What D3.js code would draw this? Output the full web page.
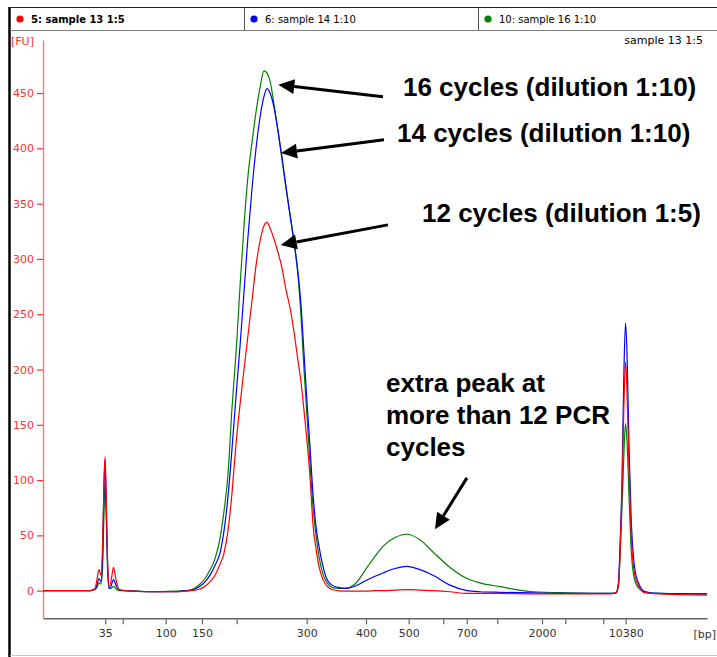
<!DOCTYPE html>
<html>
<head>
<meta charset="utf-8">
<script src="https://cdn.jsdelivr.net/npm/d3@7"></script>
<style>
  html, body { margin: 0; padding: 0; background: #fff; }
  svg { display: block; }
</style>
</head>
<body>
<svg id="chart" width="717" height="657"></svg>
<script>
// Migration time (s) of each sample point in the electropherogram
const times = [40.00, 43.46, 46.02, 46.66, 46.91, 47.17, 47.42, 47.62, 47.81, 47.94, 48.06, 48.26, 48.45, 48.70, 49.02, 49.34, 49.73, 50.50,
  53.70, 56.90, 58.18, 58.82, 59.46, 60.10, 60.74, 61.38, 62.02, 62.66, 63.17, 63.68, 64.19, 64.71, 65.22, 65.73, 66.24, 66.75,
  67.27, 67.78, 68.29, 68.67, 69.06, 69.57, 70.08, 70.59, 71.11, 71.62, 72.13, 72.64, 73.03, 73.41, 73.80, 74.18, 74.56, 74.95,
  75.33, 75.84, 76.36, 76.99, 77.76, 78.66, 79.94, 81.48, 82.50, 83.52, 85.06, 86.60, 88.26, 89.92, 92.10, 94.28, 95.94, 98.50,
  102.72, 107.46, 112.58, 113.35, 113.67, 113.86, 114.12, 114.37, 114.57, 114.76, 115.02, 115.27, 115.66, 116.17, 117.07, 118.99, 125.00];

// Fluorescence [FU] per sample
const sample13 = [0, 0, 0, 2, 10, 19, 14, 40, 100, 121, 95, 30, 4, 8, 21, 10, 1, 0,
  -1, -1, -0.5, 0, 0.5, 1.5, 4, 8, 14, 24, 34, 54, 88, 133, 168, 200, 231, 262,
  294, 316, 330, 333, 328, 318, 306, 292, 272, 256, 234, 208, 189, 163, 135, 103, 60, 38,
  22, 10, 4, 1, 0, -0.5, -0.5, -0.5, 0, 0, 0.5, 1, 0.5, 0, -1, -2.5, -2.5, -2.5,
  -3, -3, -3, -2, 5, 30, 90, 170, 207, 180, 110, 55, 18, 5, -2, -3, -4];

const sample14 = [0, 0, 0, 1, 5, 11, 8, 30, 95, 118, 90, 25, 2, 4, 10, 5, 1, 0,
  -1, -1, 0, 0.3, 1.5, 4, 8, 14, 23, 34, 54, 85, 128, 176, 221, 270, 320, 363,
  400, 428, 447, 454, 450, 437, 416, 392, 365, 340, 315, 288, 258, 215, 170, 130, 88, 58,
  40, 22, 10, 5, 3, 2, 4, 9.7, 13, 16, 20, 22, 19, 14, 5, 0, -1, -1.5,
  -2, -2.5, -2.5, -2, 8, 40, 100, 200, 242, 215, 130, 70, 25, 8, -1, -2.5, -3];

const sample16 = [0, 0, 0, 1, 3, 7, 6, 20, 70, 97, 75, 20, 2, 2, 4, 2, 0, 0,
  -1, -0.5, 0, 0.6, 2.5, 6, 11, 19, 29, 47, 72, 105, 165, 215, 275, 330, 375, 405,
  433, 455, 470, 468, 461, 440, 416, 390, 364, 340, 316, 285, 248, 200, 157, 115, 76, 50,
  31, 15, 7, 3, 2, 2, 6, 21, 31, 40, 48, 51, 46, 35, 21, 11, 7, 3.6,
  -1, -2, -2.5, -2, 5, 30, 75, 125, 151, 135, 85, 40, 12, 3, -1, -2.5, -3];

// Ladder: fragment size (bp) and the migration time of each ladder peak
const ladderBp    = [35, 50, 100, 150, 200, 300, 400, 500, 600, 700, 1000, 2000, 3000, 7000, 10380];
const ladderTimes = [47.97, 50.20, 55.71, 60.35, 64.79, 73.75, 81.35, 86.81, 91.24, 94.24, 98.15, 103.88, 106.86, 111.72, 114.59];
const labeledBp   = [35, 100, 150, 300, 400, 500, 700, 2000, 10380];

const yTicks = [0, 50, 100, 150, 200, 250, 300, 350, 400, 450];

const legendLabels = ["5: sample 13 1:5", "6: sample 14 1:10", "10: sample 16 1:10"];
const seriesColors = ["#ff0000", "#0000ff", "#008000"];

const svg = d3.select("#chart");
const W = 717, H = 657;

const x = d3.scaleLinear().domain([40, 125]).range([43, 707]);
const y = d3.scaleLinear().domain([-25, 498]).range([618.3, 40]);

// Window frame
svg.append("line").attr("x1", 9.5).attr("x2", 9.5).attr("y1", 7).attr("y2", H)
  .attr("stroke", "#000").attr("stroke-width", 2.5);
svg.append("line").attr("x1", 10).attr("x2", W).attr("y1", 655.5).attr("y2", 655.5)
  .attr("stroke", "#c8c8c8").attr("stroke-width", 1);

// Legend header
const header = svg.append("g");
header.append("line").attr("x1", 9).attr("x2", W).attr("y1", 7.5).attr("y2", 7.5)
  .attr("stroke", "#222").attr("stroke-width", 1.2);
header.append("line").attr("x1", 10).attr("x2", W).attr("y1", 30.5).attr("y2", 30.5)
  .attr("stroke", "#808080").attr("stroke-width", 1);
[244, 478].forEach(px => header.append("line").attr("x1", px + 0.5).attr("x2", px + 0.5)
  .attr("y1", 8).attr("y2", 30).attr("stroke", "#555").attr("stroke-width", 1));
const legendX = [15, 249, 483];
legendLabels.forEach((lab, i) => {
  header.append("circle").attr("cx", legendX[i] + 5).attr("cy", 19).attr("r", 3.6)
    .attr("fill", seriesColors[i]);
  header.append("text").attr("x", legendX[i] + 16).attr("y", 23)
    .attr("font-family", "DejaVu Sans, sans-serif").attr("font-size", 10)
    .attr("font-weight", i === 0 ? "bold" : "normal")
    .attr("fill", "#000").text(lab);
});

// Y axis
const yAxis = svg.append("g").attr("transform", "translate(43,0)")
  .call(d3.axisLeft(y).tickValues(yTicks).tickSize(6).tickSizeOuter(0).tickPadding(3));
yAxis.select(".domain").attr("stroke", "#ff7070").attr("stroke-width", 1.3);
yAxis.selectAll(".tick line").attr("stroke", "#ff3030").attr("stroke-width", 1.2);
yAxis.selectAll(".tick text").attr("fill", "#ff3030")
  .attr("font-family", "DejaVu Sans, sans-serif").attr("font-size", 11);

svg.append("text").attr("x", 11).attr("y", 45)
  .attr("font-family", "DejaVu Sans, sans-serif").attr("font-size", 11)
  .attr("fill", "#ff3030").text("[FU]");

svg.append("text").attr("x", 703).attr("y", 44).attr("text-anchor", "end")
  .attr("font-family", "DejaVu Sans, sans-serif").attr("font-size", 11)
  .attr("fill", "#000").text("sample 13 1:5");

// X axis (ladder sizes)
const xAxis = svg.append("g").attr("transform", "translate(0,618.3)")
  .call(d3.axisBottom(x).tickValues(ladderTimes).tickSize(6).tickSizeOuter(0).tickPadding(5)
    .tickFormat((d, i) => labeledBp.includes(ladderBp[i]) ? String(ladderBp[i]) : ""));
xAxis.select(".domain").attr("stroke", "#666").attr("stroke-width", 1.6);
xAxis.selectAll(".tick line").attr("stroke", "#666").attr("stroke-width", 1.2);
xAxis.selectAll(".tick text").attr("fill", "#333")
  .attr("font-family", "DejaVu Sans, sans-serif").attr("font-size", 11);

svg.append("text").attr("x", 716).attr("y", 638).attr("text-anchor", "end")
  .attr("font-family", "DejaVu Sans, sans-serif").attr("font-size", 11)
  .attr("fill", "#333").text("[bp]");

// Traces
const line = d3.line().x((d, i) => x(times[i])).y(d => y(d)).curve(d3.curveMonotoneX);
const traces = [
  { values: sample16, color: seriesColors[2] },
  { values: sample14, color: seriesColors[1] },
  { values: sample13, color: seriesColors[0] }
];
svg.append("g").selectAll("path").data(traces).join("path")
  .attr("d", d => line(d.values))
  .attr("fill", "none")
  .attr("stroke", d => d.color)
  .attr("stroke-width", 1.2)
  .attr("stroke-linejoin", "round");

// Annotations (anchored in time / FU)
const arrows = [
  { from: [83.52, 446.6], to: [70.12, 457.5] },
  { from: [83.65, 407.7], to: [70.47, 395.7] },
  { from: [84.16, 330.8], to: [70.43, 312.7] },
  { from: [94.27, 102.0], to: [90.18, 55.5] }
];
const notes = [
  { t: 86.08, fu: 447.5, text: "16 cycles (dilution 1:10)" },
  { t: 85.32, fu: 405.6, text: "14 cycles (dilution 1:10)" },
  { t: 88.52, fu: 333.6, text: "12 cycles (dilution 1:5)" },
  { t: 83.91, fu: 179.8, text: "extra peak at" },
  { t: 83.91, fu: 150.8, text: "more than 12 PCR" },
  { t: 83.91, fu: 121.9, text: "cycles" }
];

const ann = svg.append("g");
arrows.forEach(a => {
  const x0 = x(a.from[0]), y0 = y(a.from[1]);
  const x1 = x(a.to[0]), y1 = y(a.to[1]);
  const ang = Math.atan2(y1 - y0, x1 - x0);
  const headLen = 16, headHalf = 7.5;
  const bx = x1 - headLen * Math.cos(ang), by = y1 - headLen * Math.sin(ang);
  ann.append("line").attr("x1", x0).attr("y1", y0).attr("x2", bx).attr("y2", by)
    .attr("stroke", "#000").attr("stroke-width", 3);
  const px = -Math.sin(ang) * headHalf, py = Math.cos(ang) * headHalf;
  ann.append("path")
    .attr("d", `M${x1},${y1}L${bx + px},${by + py}L${bx - px},${by - py}Z`)
    .attr("fill", "#000");
});
notes.forEach(n => {
  ann.append("text").attr("x", x(n.t)).attr("y", y(n.fu))
    .attr("font-family", "Liberation Sans, Arial, sans-serif")
    .attr("font-size", 26).attr("font-weight", "bold")
    .attr("fill", "#000").text(n.text);
});
</script>
</body>
</html>
